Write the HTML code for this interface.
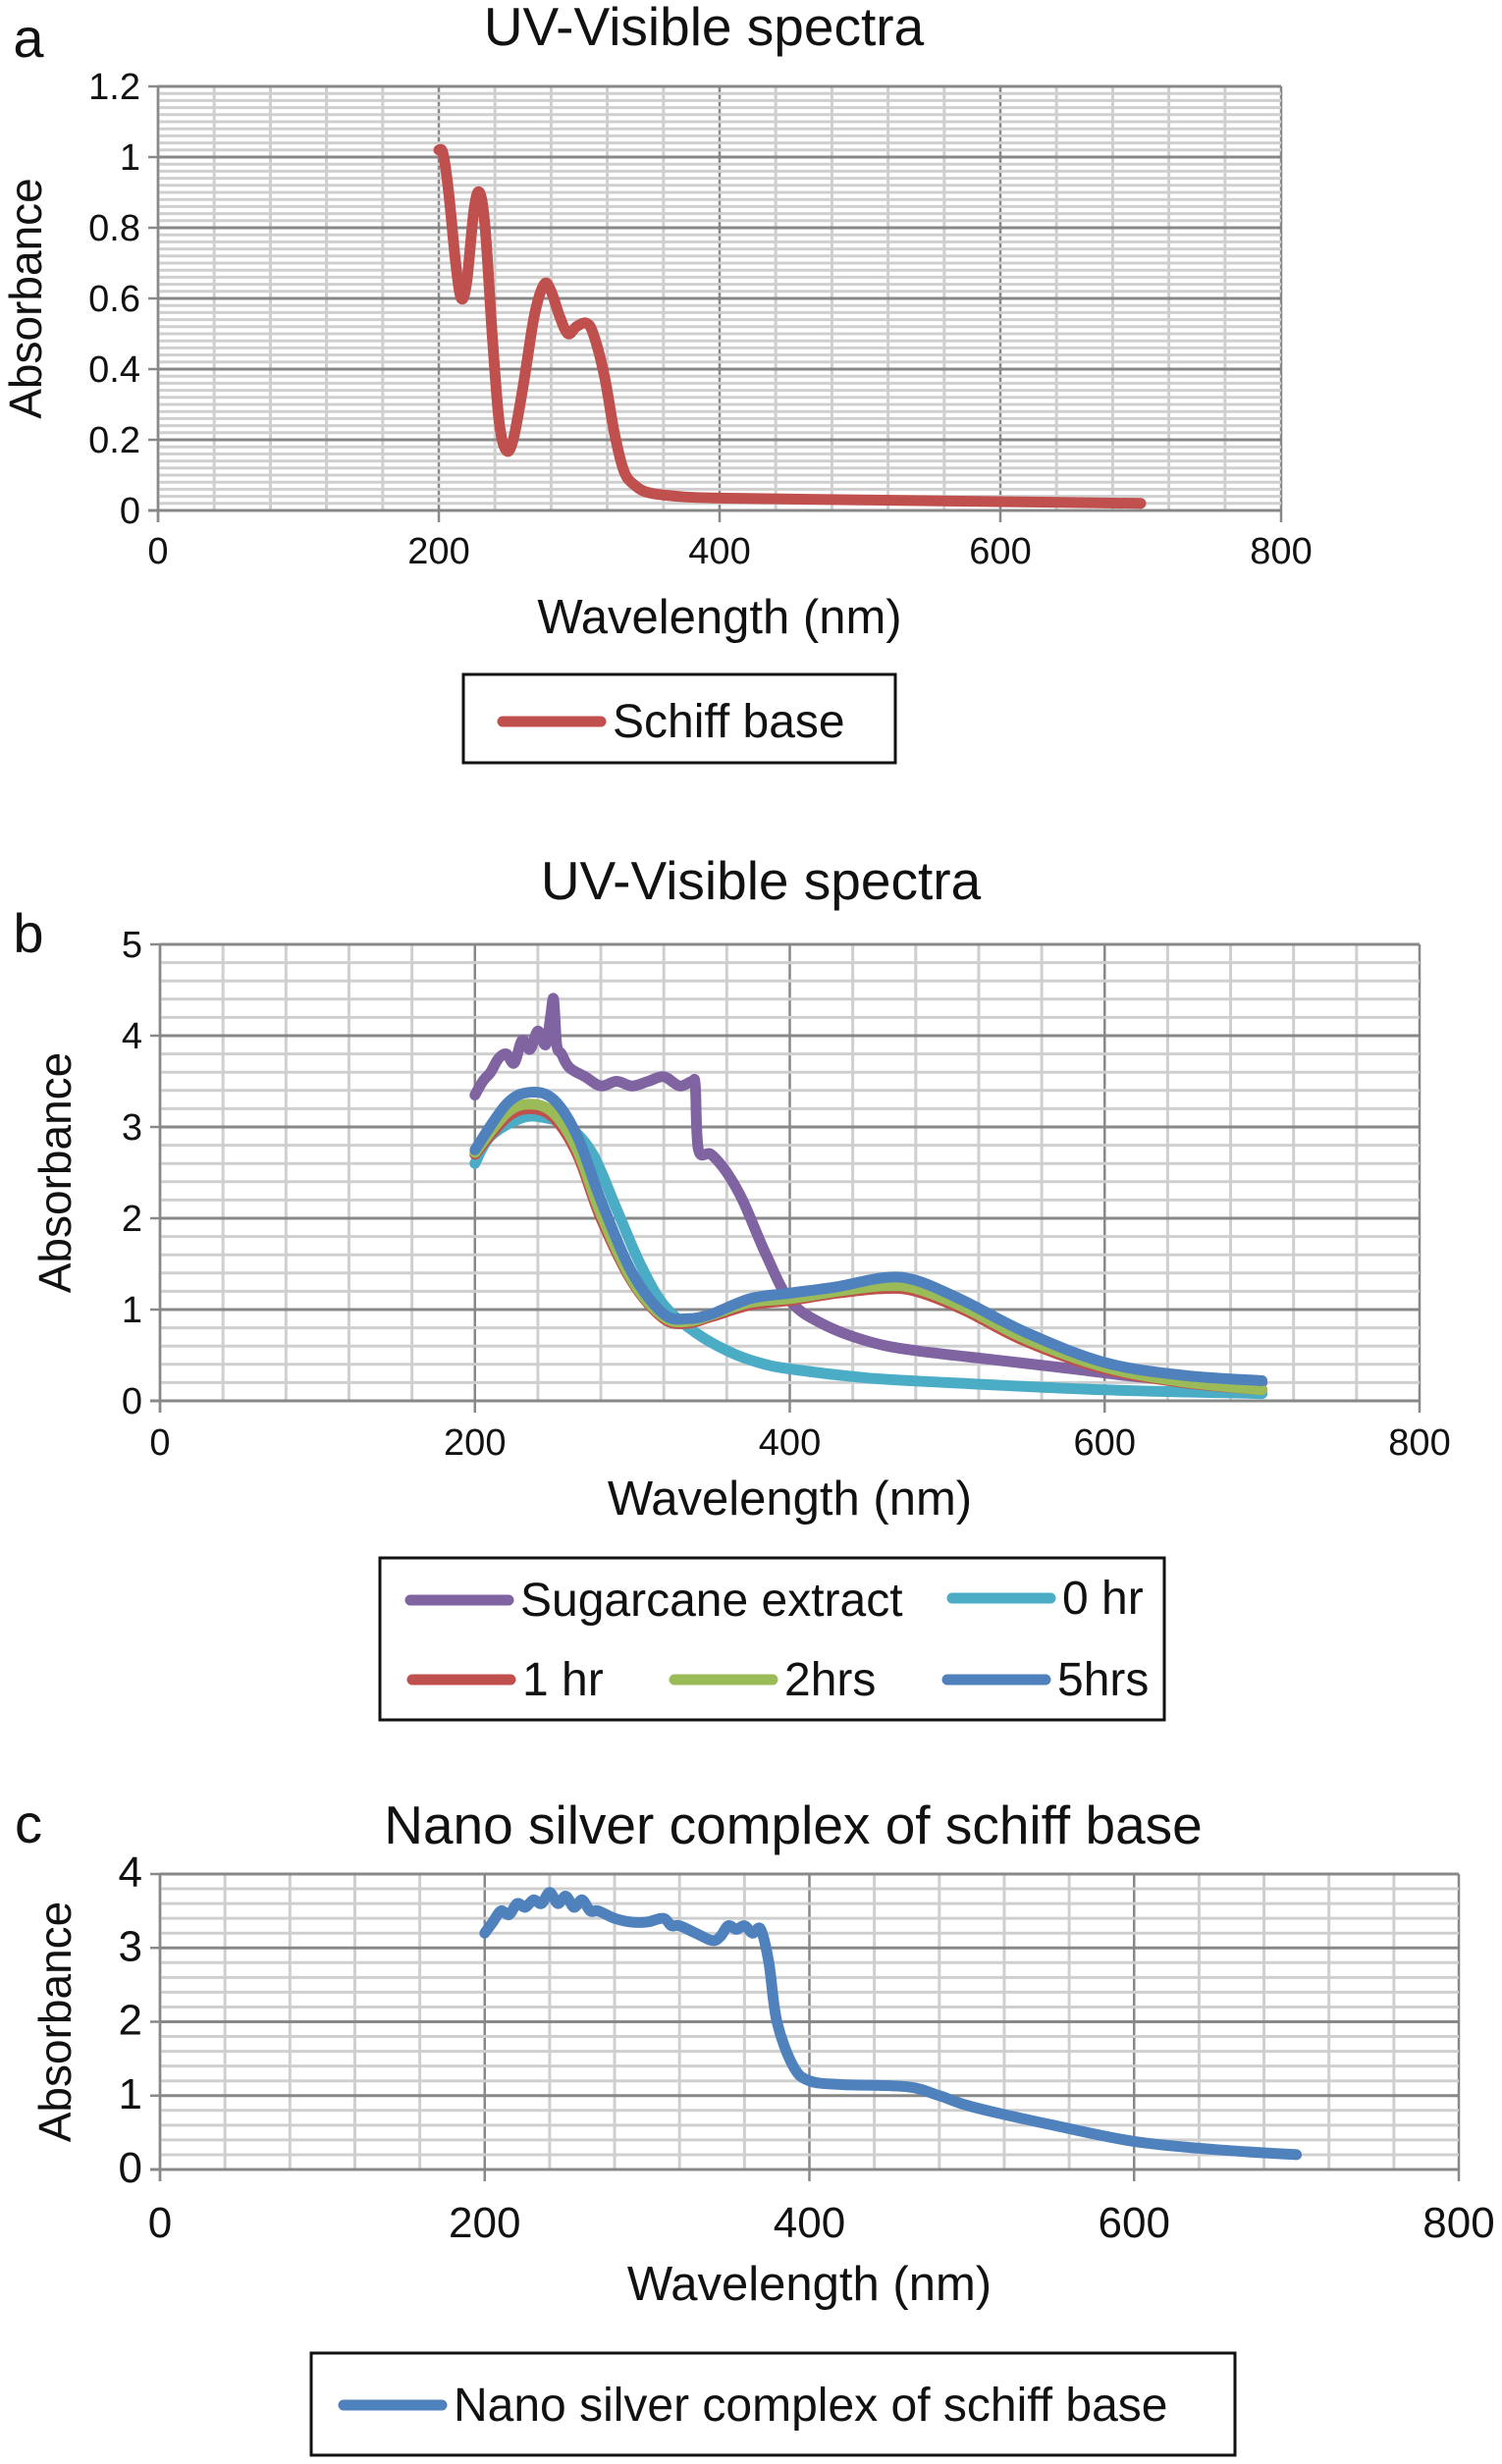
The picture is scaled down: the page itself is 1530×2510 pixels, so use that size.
<!DOCTYPE html>
<html><head><meta charset="utf-8"><style>
html,body{margin:0;padding:0;background:#fff;}
svg{display:block;}
text{font-family:"Liberation Sans Narrow","Liberation Sans",sans-serif;fill:#111;}
.yt{font-family:"Liberation Sans",sans-serif;}
</style></head><body>
<svg id="fig" width="1530" height="2510" viewBox="0 0 1530 2510"></svg>
<script>
// ---- Data: chart a ----
const aWave=[200,203,207,212,216,220,225,229,233,238,243,248,253,260,268,275,280,286,292,298,305,310,318,325,332,340,350,370,400,500,600,700];
const aAbs=[1.02,1.01,0.9,0.7,0.6,0.65,0.85,0.9,0.8,0.5,0.25,0.17,0.2,0.35,0.55,0.64,0.62,0.55,0.5,0.52,0.53,0.5,0.38,0.22,0.11,0.07,0.05,0.04,0.035,0.03,0.025,0.02];
// ---- Data: chart b ----
const sugWave=[200,205,210,215,220,225,230,235,240,245,248,250,252,255,260,270,280,290,300,310,320,330,338,340,342,350,360,370,385,400,420,450,480,530,580,630,700];
const sugAbs=[3.35,3.5,3.6,3.75,3.8,3.7,3.95,3.85,4.05,3.9,4.2,4.4,3.9,3.8,3.65,3.55,3.45,3.5,3.45,3.5,3.55,3.45,3.5,3.45,2.75,2.7,2.5,2.2,1.6,1.1,0.85,0.65,0.55,0.45,0.35,0.25,0.2];
const hr0Wave=[200,210,230,245,260,275,290,305,320,340,360,380,400,450,500,600,700];
const hr0Abs=[2.6,2.9,3.1,3.1,3.0,2.7,2.1,1.5,1.05,0.75,0.55,0.42,0.35,0.25,0.2,0.12,0.08];
const hrWave=[200,220,235,250,265,280,300,320,335,350,375,400,430,460,480,510,550,600,650,700];
const hr1Abs=[2.7,3.1,3.2,3.1,2.7,2.0,1.3,0.9,0.85,0.92,1.05,1.1,1.18,1.23,1.2,1.0,0.65,0.35,0.2,0.12];
const hr2Abs=[2.72,3.15,3.25,3.15,2.75,2.05,1.32,0.92,0.87,0.94,1.08,1.12,1.2,1.26,1.23,1.03,0.68,0.37,0.21,0.12];
const hr5Abs=[2.75,3.25,3.38,3.3,2.9,2.2,1.4,0.95,0.9,0.95,1.12,1.18,1.25,1.35,1.32,1.1,0.75,0.42,0.28,0.22];
// ---- Data: chart c ----
const cWave=[200,205,210,215,220,225,230,235,240,245,250,255,260,265,270,280,290,300,310,315,320,330,340,345,350,355,360,365,370,375,380,390,400,420,460,480,500,550,600,650,700];
const cAbs=[3.2,3.35,3.5,3.45,3.6,3.55,3.65,3.6,3.75,3.6,3.7,3.55,3.65,3.5,3.5,3.4,3.35,3.35,3.4,3.3,3.3,3.2,3.1,3.15,3.3,3.25,3.3,3.2,3.25,2.8,2.0,1.4,1.2,1.15,1.12,1.0,0.85,0.6,0.38,0.27,0.2];
const xTicks=[0,200,400,600,800];
const aYTicks=["0","0.2","0.4","0.6","0.8","1","1.2"];
const bYTicks=["0","1","2","3","4","5"];
const cYTicks=["0","1","2","3","4"];

const NS="http://www.w3.org/2000/svg";
const svg=document.getElementById('fig');
function mk(tag,attrs,parent){const e=document.createElementNS(NS,tag);for(const k in attrs)e.setAttribute(k,attrs[k]);(parent||svg).appendChild(e);return e;}
function txt(s,x,y,size,anchor,parent,cls){const t=mk('text',{x:x,y:y,'font-size':size,'text-anchor':anchor||'middle'},parent);if(cls)t.setAttribute('class',cls);t.textContent=s;return t;}
function smooth(pts){let d='M'+pts[0][0].toFixed(1)+','+pts[0][1].toFixed(1);
  for(let i=0;i<pts.length-1;i++){const p0=pts[Math.max(0,i-1)],p1=pts[i],p2=pts[i+1],p3=pts[Math.min(pts.length-1,i+2)];
    const c1=[p1[0]+(p2[0]-p0[0])/6,p1[1]+(p2[1]-p0[1])/6],c2=[p2[0]-(p3[0]-p1[0])/6,p2[1]-(p3[1]-p1[1])/6];
    d+='C'+c1[0].toFixed(1)+','+c1[1].toFixed(1)+' '+c2[0].toFixed(1)+','+c2[1].toFixed(1)+' '+p2[0].toFixed(1)+','+p2[1].toFixed(1);}
  return d;}

function chart(cfg){
  const g=mk('g',{});
  
  
  const X=v=>cfg.x0+(v-0)/800*(cfg.x1-cfg.x0);
  const Y=v=>cfg.y0-(v/cfg.ymax)*(cfg.y0-cfg.y1);
  const grid=mk('g',{},g);
  
  
  for(let v=0;v<=800+1e-9;v+=40){mk('line',{x1:X(v),x2:X(v),y1:cfg.y1,y2:cfg.y0,stroke:(v%200===0)?'#888':'#cfcfcf','stroke-width':(v%200===0)?2.5:3},grid);}
  const nMin=Math.round(cfg.ymax/cfg.minor);
  for(let i=0;i<=nMin;i++){const v=i*cfg.minor;const major=Math.abs(v/cfg.major-Math.round(v/cfg.major))<1e-6;
    mk('line',{x1:cfg.x0,x2:cfg.x1,y1:Y(v),y2:Y(v),stroke:major?'#888':'#cfcfcf','stroke-width':3},grid);}
  mk('line',{x1:cfg.x0,x2:cfg.x0,y1:cfg.y1,y2:cfg.y0+12,stroke:'#888','stroke-width':2.5},g);
  mk('line',{x1:cfg.x0-10,x2:cfg.x1,y1:cfg.y0,y2:cfg.y0,stroke:'#888','stroke-width':3},g);
  xTicks.forEach(v=>{mk('line',{x1:X(v),x2:X(v),y1:cfg.y0,y2:cfg.y0+12,stroke:'#888','stroke-width':2.5},g);
    const t=txt(String(v),X(v),cfg.xly,cfg.tfs,'middle',g);});
  cfg.yt.forEach((s,i)=>{const v=i*cfg.major;mk('line',{x1:cfg.x0-10,x2:cfg.x0,y1:Y(v),y2:Y(v),stroke:'#888','stroke-width':2.5},g);
    const t=txt(s,cfg.x0-18,Y(v)+13,cfg.tfs,'end',g);});
  let t=txt(cfg.title,cfg.tcx,cfg.ty,55,'middle',g);
  t=txt(cfg.letter,29,cfg.ly,56,'middle',g);
  t=txt('Wavelength (nm)',(cfg.x0+cfg.x1)/2,cfg.xty,49,'middle',g);
  t=mk('text',{x:0,y:0,'font-size':46,'text-anchor':'middle',transform:`translate(${cfg.yax},${(cfg.y0+cfg.y1)/2}) rotate(-90)`,class:'yt'},g);t.textContent='Absorbance';
  
  cfg.series.forEach(s=>{const pts=s.w.map((w,i)=>[X(w),Y(s.a[i])]);
    const p=mk('path',{d:smooth(pts),fill:'none',stroke:s.c,'stroke-width':s.sw||11,'stroke-linejoin':'round','stroke-linecap':'round'},g);
    });
  const L=cfg.leg;
  const lg=mk('g',{},g);
  
  
  mk('rect',{x:L.x,y:L.y,width:L.w,height:L.h,fill:'#fff',stroke:'#111','stroke-width':3},lg);
  L.items.forEach(it=>{const e=mk('g',{},lg);
    
    
    mk('line',{x1:it.x,x2:it.x+100,y1:it.y,y2:it.y,stroke:it.c,'stroke-width':11,'stroke-linecap':'round'},e);
    txt(it.t,it.x+112,it.y+16,48,'start',e);});
}

chart({name:'chart-a',x0:161,x1:1305,y0:520,y1:88,ymax:1.2,major:0.2,minor:0.02,yt:aYTicks,tfs:38,xly:574,xty:645,yax:42,
  title:'UV-Visible spectra',tcx:717,ty:46,letter:'a',ly:58,
  series:[{n:'schiff-base-line',w:aWave,a:aAbs,c:'#c0504d'}],
  leg:{x:472,y:687,w:440,h:90,items:[{x:512,y:735,c:'#c0504d',t:'Schiff base'}]}});

chart({name:'chart-b',x0:163,x1:1446,y0:1427,y1:962,ymax:5,major:1,minor:0.2,yt:bYTicks,tfs:38,xly:1482,xty:1543,yax:72,
  title:'UV-Visible spectra',tcx:775,ty:916,letter:'b',ly:970,
  series:[{n:'sugarcane-extract-line',w:sugWave,a:sugAbs,c:'#8064a2'},{n:'0hr-line',w:hr0Wave,a:hr0Abs,c:'#4bacc6'},
          {n:'1hr-line',w:hrWave,a:hr1Abs,c:'#c0504d'},{n:'2hrs-line',w:hrWave,a:hr2Abs,c:'#9bbb59'},{n:'5hrs-line',w:hrWave,a:hr5Abs,c:'#4f81bd'}],
  leg:{x:387,y:1587,w:799,h:165,items:[{x:418,y:1630,c:'#8064a2',t:'Sugarcane extract'},{x:970,y:1628,c:'#4bacc6',t:'0 hr'},
    {x:420,y:1711,c:'#c0504d',t:'1 hr'},{x:687,y:1711,c:'#9bbb59',t:'2hrs'},{x:965,y:1711,c:'#4f81bd',t:'5hrs'}]}});

chart({name:'chart-c',x0:163,x1:1486,y0:2210,y1:1909,ymax:4,major:1,minor:0.2,yt:cYTicks,tfs:44,xly:2279,xty:2343,yax:72,
  title:'Nano silver complex of schiff base',tcx:808,ty:1878,letter:'c',ly:1877,
  series:[{n:'nano-silver-line',w:cWave,a:cAbs,c:'#4f81bd'}],
  leg:{x:317,y:2397,w:941,h:104,items:[{x:350,y:2450,c:'#4f81bd',t:'Nano silver complex of schiff base'}]}});
</script>
</body></html>
